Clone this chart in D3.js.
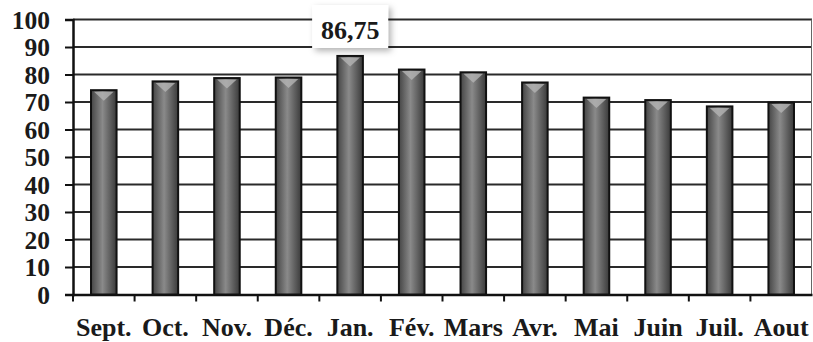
<!DOCTYPE html>
<html><head><meta charset="utf-8">
<script src="https://cdn.jsdelivr.net/npm/d3@7/dist/d3.min.js"></script>
<style>html,body{margin:0;padding:0;background:#fff;}svg{display:block;}</style>
</head><body>
<script>
const months = ["Sept.","Oct.","Nov.","Déc.","Jan.","Fév.","Mars","Avr.","Mai","Juin","Juil.","Aout"];
const values = [74.3,77.5,78.7,78.9,86.75,81.8,80.8,77.1,71.6,70.7,68.4,69.8];
const yTicks = [0,10,20,30,40,50,60,70,80,90,100];
const labelIndex = 4;
const labelText = "86,75";

const W = 813, H = 342;
const m = {left:73, right:1, top:19.5, bottom:47.5};
const font = "'Liberation Serif','Times New Roman',serif";
const svg = d3.select("body").append("svg").attr("width",W).attr("height",H);
const defs = svg.append("defs");
const g1 = defs.append("linearGradient").attr("id","bar").attr("x1","0").attr("x2","1").attr("y1","0").attr("y2","0");
g1.append("stop").attr("offset","0%").attr("stop-color","#454545");
g1.append("stop").attr("offset","45%").attr("stop-color","#8a8a8a");
g1.append("stop").attr("offset","100%").attr("stop-color","#3a3a3a");
const f = defs.append("filter").attr("id","sh").attr("x","-20%").attr("y","-20%").attr("width","150%").attr("height","160%");
f.append("feDropShadow").attr("dx",3).attr("dy",3).attr("stdDeviation",3).attr("flood-color","#000").attr("flood-opacity",0.3);

const x = d3.scaleBand().domain(months).range([m.left, W-m.right]).paddingInner(0.585).paddingOuter(0.2925);
const y = d3.scaleLinear().domain([0,100]).range([H-m.bottom, m.top]);

// gridlines
svg.append("g").selectAll("line").data(yTicks.filter(d=>d>0)).join("line")
  .attr("x1",m.left).attr("x2",W-m.right).attr("y1",d=>y(d)).attr("y2",d=>y(d))
  .attr("stroke","#2a2a2a").attr("stroke-width",2);
// right border
svg.append("line").attr("x1",W-m.right-0.5).attr("x2",W-m.right-0.5).attr("y1",y(100)).attr("y2",y(0))
  .attr("stroke","#666").attr("stroke-width",1);

// y axis
const ya = svg.append("g").attr("transform",`translate(${m.left},0)`)
  .call(d3.axisLeft(y).tickValues(yTicks).tickSize(8).tickPadding(15));
ya.attr("font-family",font);
ya.select(".domain").attr("stroke","#111").attr("stroke-width",2.5);
ya.selectAll(".tick line").attr("stroke","#111").attr("stroke-width",2);
ya.selectAll("text").attr("font-family",font).attr("font-weight","bold").attr("font-size",25.5)
  .attr("fill","#1a1a1a").attr("dy","0.34em");

// x axis
const step = x.step();
const xa = svg.append("g").attr("transform",`translate(0,${y(0)})`)
  .call(d3.axisBottom(x).tickSize(0).tickPadding(23));
xa.attr("font-family",font);
xa.select(".domain").attr("stroke","#111").attr("stroke-width",2.5);
xa.selectAll("text").attr("font-family",font).attr("font-weight","bold").attr("font-size",26)
  .attr("fill","#1a1a1a");
svg.append("g").selectAll("line").data(d3.range(months.length)).join("line")
  .attr("x1",i=>m.left+i*step).attr("x2",i=>m.left+i*step).attr("y1",y(0)).attr("y2",y(0)+7)
  .attr("stroke","#111").attr("stroke-width",2);

// bars
const bars = svg.append("g").selectAll("g").data(values).join("g");
bars.append("rect")
  .attr("x",(d,i)=>x(months[i])).attr("width",x.bandwidth())
  .attr("y",d=>y(d)).attr("height",d=>y(0)-y(d))
  .attr("fill","url(#bar)").attr("stroke","#111").attr("stroke-width",2);
bars.append("path")
  .attr("d",(d,i)=>{const x0=x(months[i]), w=x.bandwidth(), t=y(d)+1.5;
    return `M${x0+3},${t}L${x0+w-3},${t}L${x0+w/2},${t+9}Z`;})
  .attr("fill","#b4b4b4").attr("opacity",0.8);

// data label
const lx = x(months[labelIndex]) + x.bandwidth()/2;
const lb = svg.append("g");
lb.append("rect").attr("x",lx-38).attr("y",5).attr("width",76).attr("height",43)
  .attr("fill","#fff").attr("filter","url(#sh)");
lb.append("text").attr("x",lx).attr("y",39).attr("text-anchor","middle")
  .attr("font-family",font).attr("font-weight","bold").attr("font-size",26).attr("fill","#1a1a1a")
  .text(labelText);
</script>
</body></html>
